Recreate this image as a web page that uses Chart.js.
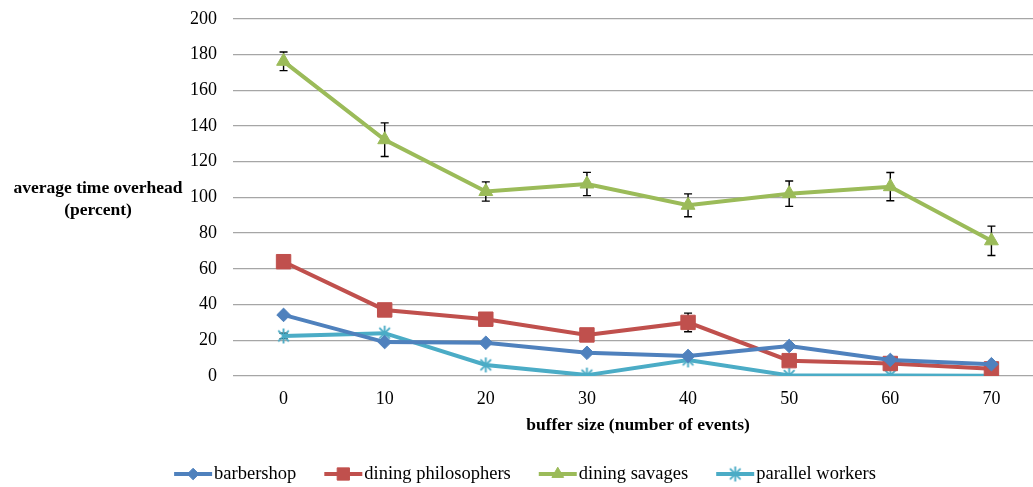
<!DOCTYPE html>
<html>
<head>
<meta charset="utf-8">
<script src="https://cdn.jsdelivr.net/npm/chart.js@4/dist/chart.umd.min.js"></script>
<style>
  html, body { margin: 0; padding: 0; background: #ffffff; overflow: hidden; }
  #wrap { width: 1047px; height: 487px; position: relative; }
</style>
</head>
<body>
<div id="wrap"><canvas id="c" width="1047" height="487"></canvas></div>
<script>
// Buffer sizes (x categories)
const bufferSizes = ['0', '10', '20', '30', '40', '50', '60', '70'];

// Average time overhead (percent) per benchmark
const barbershop         = [34.2, 19.0, 18.6, 13.0, 11.2, 16.8, 9.0, 6.6];
const diningPhilosophers = [64.0, 37.0, 31.8, 23.0, 30.0, 8.6, 7.0, 4.0];
const diningSavages      = [176.2, 132.3, 103.3, 107.5, 95.6, 102.1, 106.0, 75.7];
const parallelWorkers    = [22.4, 24.0, 6.2, 0.5, 9.0, 0.3, 0.3, 0.2];

// Half-length of the error bars
const barbershopErr   = [0, 0, 0, 0, 0, 0, 0, 0];
const philosophersErr = [0, 0, 0, 0, 5.2, 0, 0, 0];
const savagesErr      = [5.2, 9.4, 5.4, 6.5, 6.4, 7.1, 7.9, 8.2];
const workersErr      = [1.5, 0, 0, 0, 0, 0, 0, 0];

// Y axis range / step
const yMin = 0, yMax = 200, yStep = 20;

// Plot area runs past the right edge of the window
const plotRight = 1042;

const FONT = '"Liberation Serif", "Times New Roman", serif';
const COLORS = {
  barbershop: '#4F81BD',
  philosophers: '#C0504D',
  savages: '#9BBB59',
  workers: '#4BACC6'
};

// Asterisk marker: vertical stroke plus an X
function asteriskMarker(color, r, lw) {
  const size = Math.ceil(2 * r + lw + 2);
  const cv = document.createElement('canvas');
  cv.width = size; cv.height = size;
  const g = cv.getContext('2d');
  const c = size / 2;
  g.strokeStyle = color;
  g.lineWidth = lw;
  g.lineCap = 'butt';
  g.beginPath();
  g.moveTo(c, c - r); g.lineTo(c, c + r);
  const d = r * Math.SQRT1_2;
  g.moveTo(c - d, c - d); g.lineTo(c + d, c + d);
  g.moveTo(c - d, c + d); g.lineTo(c + d, c - d);
  g.stroke();
  return cv;
}
const workersMarker = asteriskMarker(COLORS.workers, 7.5, 1.9);

const series = [
  { label: 'barbershop', data: barbershop, err: barbershopErr, color: COLORS.barbershop, style: 'rectRot', radius: 6.8 },
  { label: 'dining philosophers', data: diningPhilosophers, err: philosophersErr, color: COLORS.philosophers, style: 'rect', radius: 10.2 },
  { label: 'dining savages', data: diningSavages, err: savagesErr, color: COLORS.savages, style: 'triangle', radius: 8 },
  { label: 'parallel workers', data: parallelWorkers, err: workersErr, color: COLORS.workers, style: workersMarker, radius: 7.5 }
];

// Stretch the plot area to its right edge before the datasets are laid out
const widenPlot = {
  id: 'widenPlot',
  afterLayout(chart) {
    const xs = chart.scales.x;
    chart.chartArea.right = plotRight;
    chart.chartArea.width = plotRight - chart.chartArea.left;
    xs.right = plotRight;
    xs.width = plotRight - xs.left;
    xs.configure();
  }
};

// Error bars (black, capped), drawn beneath the markers
const errorBars = {
  id: 'errorBars',
  beforeDatasetsDraw(chart) {
    const { ctx } = chart;
    const xs = chart.scales.x, ys = chart.scales.y;
    ctx.save();
    ctx.strokeStyle = '#000000';
    ctx.lineWidth = 1.4;
    series.forEach((s) => {
      s.data.forEach((v, i) => {
        const e = s.err[i];
        if (!e) return;
        const x = xs.getPixelForValue(i);
        const yt = ys.getPixelForValue(v + e);
        const yb = ys.getPixelForValue(Math.max(v - e, yMin));
        const cap = 4;
        ctx.beginPath();
        ctx.moveTo(x, yt); ctx.lineTo(x, yb);
        ctx.moveTo(x - cap, yt); ctx.lineTo(x + cap, yt);
        ctx.moveTo(x - cap, yb); ctx.lineTo(x + cap, yb);
        ctx.stroke();
      });
    });
    ctx.restore();
  }
};

// Axis titles and the line-and-marker legend along the bottom
const decorations = {
  id: 'decorations',
  afterDraw(chart) {
    const { ctx } = chart;
    ctx.save();
    ctx.fillStyle = '#000000';
    ctx.textAlign = 'center';
    ctx.textBaseline = 'middle';
    ctx.font = 'bold 17.5px ' + FONT;
    ctx.fillText('average time overhead', 98, 188);
    ctx.fillText('(percent)', 98, 210);
    ctx.fillText('buffer size (number of events)', 638, 425);

    // legend
    ctx.font = '18.5px ' + FONT;
    const lineW = 38, gapText = 2, gapItem = 28;
    const widths = series.map(s => lineW + gapText + ctx.measureText(s.label).width);
    const total = widths.reduce((a, b) => a + b, 0) + gapItem * (series.length - 1);
    let x = 525 - total / 2;
    const y = 474;
    series.forEach((s, i) => {
      ctx.strokeStyle = s.color;
      ctx.fillStyle = s.color;
      ctx.lineWidth = 4;
      ctx.beginPath();
      ctx.moveTo(x, y); ctx.lineTo(x + lineW, y);
      ctx.stroke();
      ctx.lineWidth = 1;
      Chart.helpers.drawPoint(ctx, {
        pointStyle: s.style, radius: s.radius * 0.85, rotation: 0, borderWidth: 1
      }, x + lineW / 2, y);
      ctx.fillStyle = '#000000';
      ctx.textAlign = 'left';
      ctx.textBaseline = 'middle';
      ctx.fillText(s.label, x + lineW + gapText, y);
      x += widths[i] + gapItem;
    });
    ctx.restore();
  }
};

new Chart(document.getElementById('c'), {
  type: 'line',
  data: {
    labels: bufferSizes,
    datasets: series.map(s => ({
      label: s.label,
      data: s.data,
      borderColor: s.color,
      backgroundColor: s.color,
      borderWidth: 4,
      pointStyle: s.style,
      pointRadius: s.radius,
      pointHoverRadius: s.radius,
      pointBorderWidth: 1,
      pointBorderColor: s.color,
      pointBackgroundColor: s.color,
      tension: 0,
      fill: false
    }))
  },
  options: {
    responsive: false,
    animation: false,
    events: [],
    layout: { padding: { top: 0, right: 1, bottom: 51, left: 0 } },
    plugins: {
      legend: { display: false },
      tooltip: { enabled: false },
      title: { display: false }
    },
    scales: {
      x: {
        type: 'category',
        offset: true,
        grid: { display: false, drawTicks: false },
        border: { display: false },
        ticks: {
          color: '#000000',
          font: { family: FONT, size: 18 },
          padding: 12,
          maxRotation: 0
        },
        afterFit(scale) { scale.height = 60; }
      },
      y: {
        min: yMin,
        max: yMax,
        grid: { color: '#a6a6a6', lineWidth: 1.3, drawTicks: true, tickLength: 8, tickColor: 'rgba(0,0,0,0)' },
        border: { display: false },
        ticks: {
          stepSize: yStep,
          color: '#000000',
          font: { family: FONT, size: 18 },
          padding: 8
        },
        afterFit(scale) { scale.width = 233; }
      }
    }
  },
  plugins: [widenPlot, errorBars, decorations]
});
</script>
</body>
</html>
